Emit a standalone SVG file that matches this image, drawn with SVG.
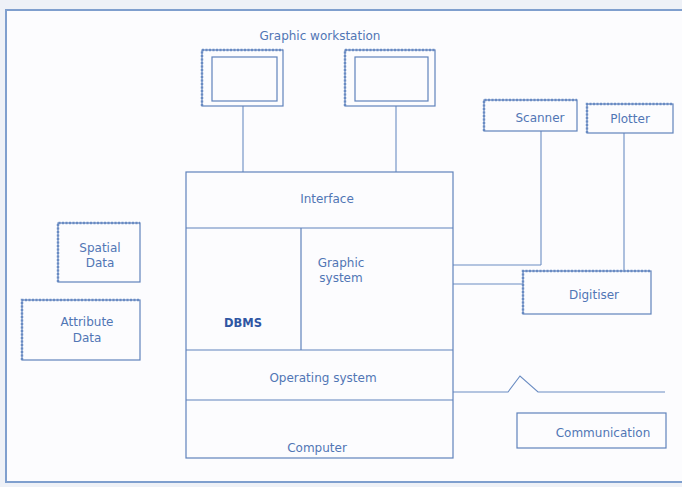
<svg xmlns="http://www.w3.org/2000/svg" width="682" height="487" viewBox="0 0 682 487">
<style>
.bg{fill:#eef1f7}
.frame{fill:#fcfcfe;stroke:#7f9fce;stroke-width:2}
.box{fill:none;stroke:#5f82bb;stroke-width:1.2}
.shadow{fill:none;stroke:#7a9ad0;stroke-width:2.5;stroke-dasharray:2 1.5}
.ln{fill:none;stroke:#6a8cc2;stroke-width:1.1}
text{font-family:"DejaVu Sans","Liberation Sans",sans-serif;font-size:12px;fill:#5176b5;text-anchor:middle}
.bold{font-weight:bold;fill:#2f56a3;font-size:11.5px}
</style>
<rect class="bg" x="0" y="0" width="682" height="487"/>
<rect class="frame" x="6" y="10" width="690" height="472"/>
<g id="title"><text x="320" y="40">Graphic workstation</text></g>
<g id="connectors">
<line class="ln" x1="243" y1="106" x2="243" y2="172"/>
<line class="ln" x1="396" y1="106" x2="396" y2="172"/>
<line class="ln" x1="541" y1="131" x2="541" y2="265"/>
<line class="ln" x1="624" y1="133" x2="624" y2="270"/>
<line class="ln" x1="453" y1="265" x2="541" y2="265"/>
<line class="ln" x1="453" y1="284" x2="523" y2="284"/>
<polyline class="ln" points="453,392 508,392 520,376 538,392 665,392"/>
</g>
<g id="monitor1">
<path class="shadow" d="M202,106 V50 H283"/>
<rect class="box" x="202" y="50" width="81" height="56"/>
<rect class="box" x="212" y="57" width="65" height="44"/>
</g>
<g id="monitor2">
<path class="shadow" d="M345,106 V50 H435"/>
<rect class="box" x="345" y="50" width="90" height="56"/>
<rect class="box" x="355" y="57" width="73" height="44"/>
</g>
<g id="main">
<rect class="box" x="186" y="172" width="267" height="286"/>
<line class="box" x1="186" y1="228" x2="453" y2="228"/>
<line class="box" x1="301" y1="228" x2="301" y2="350"/>
<line class="box" x1="186" y1="350" x2="453" y2="350"/>
<line class="box" x1="186" y1="400" x2="453" y2="400"/>
<text x="327" y="203">Interface</text>
<text x="341" y="267">Graphic</text>
<text x="341" y="282">system</text>
<text class="bold" x="243" y="327">DBMS</text>
<text x="323" y="382">Operating system</text>
<text x="317" y="452">Computer</text>
</g>
<g id="scanner">
<path class="shadow" d="M484,131 V100 H577"/>
<rect class="box" x="484" y="100" width="93" height="31"/>
<text x="540" y="122">Scanner</text>
</g>
<g id="plotter">
<path class="shadow" d="M587,133 V104 H673"/>
<rect class="box" x="587" y="104" width="86" height="29"/>
<text x="630" y="123">Plotter</text>
</g>
<g id="digitiser">
<path class="shadow" d="M523,314 V271 H651"/>
<rect class="box" x="523" y="271" width="128" height="43"/>
<text x="594" y="299">Digitiser</text>
</g>
<g id="communication">
<rect class="box" x="517" y="413" width="149" height="35"/>
<text x="603" y="437">Communication</text>
</g>
<g id="spatial">
<path class="shadow" d="M58,282 V223 H140"/>
<rect class="box" x="58" y="223" width="82" height="59"/>
<text x="100" y="252">Spatial</text>
<text x="100" y="267">Data</text>
</g>
<g id="attribute">
<path class="shadow" d="M22,360 V300 H140"/>
<rect class="box" x="22" y="300" width="118" height="60"/>
<text x="87" y="326">Attribute</text>
<text x="87" y="342">Data</text>
</g>
</svg>
